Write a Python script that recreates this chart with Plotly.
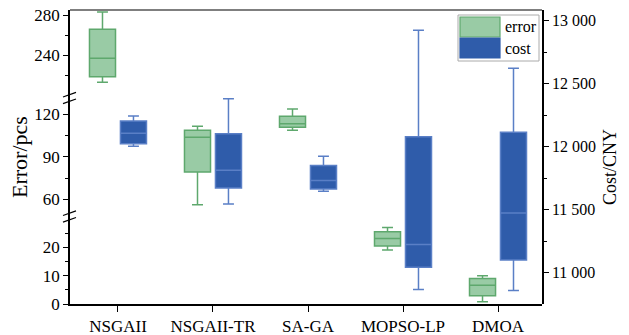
import numpy as np
import plotly.graph_objects as go

CATEGORIES = ["NSGAII", "NSGAII-TR", "SA-GA", "MOPSO-LP", "DMOA"]

# error (pcs) box statistics
err_low = [212.7, 56.2, 108.7, 19.1, 0.8]
err_q1 = [218.3, 79.3, 110.8, 20.5, 2.9]
err_med = [236.7, 103.8, 113.4, 23.1, 6.6]
err_q3 = [265.7, 108.7, 118.6, 25.5, 9.0]
err_high = [283.0, 111.5, 123.7, 27.0, 10.0]

# cost (CNY) box statistics
cost_low = [12003, 11545, 11646, 10868, 10860]
cost_q1 = [12024, 11672, 11664, 11043, 11101]
cost_med = [12106, 11813, 11733, 11225, 11474]
cost_q3 = [12204, 12103, 11852, 12079, 12114]
cost_high = [12244, 12381, 11924, 12924, 12622]

FONT = "Liberation Serif"
GREEN_FILL = "#99cba5"
GREEN_LINE = "#5ea86d"
BLUE_FILL = "#2f5caa"
BLUE_LINE = "#5a7fc6"

OFF = 0.163
BW = 0.274
idx = np.arange(len(CATEGORIES))

W, H = 629, 335
L, R, T, B = 70, 87, 10, 31
PW, PH = W - L - R, H - T - B


def px2paper(px, py):
    return (px - L) / PW, (H - B - py) / PH


fig = go.Figure()

err_axes = ["y", "y2", "y3"]
for ya in err_axes:
    fig.add_trace(go.Box(
        x=idx - OFF, q1=err_q1, median=err_med, q3=err_q3,
        lowerfence=err_low, upperfence=err_high,
        width=BW, whiskerwidth=0.42,
        fillcolor=GREEN_FILL, line=dict(color=GREEN_LINE, width=1.5),
        xaxis="x", yaxis=ya, name="error", showlegend=False, hoverinfo="skip",
    ))

fig.add_trace(go.Box(
    x=idx + OFF, q1=cost_q1, median=cost_med, q3=cost_q3,
    lowerfence=cost_low, upperfence=cost_high,
    width=BW, whiskerwidth=0.42,
    fillcolor=BLUE_FILL, line=dict(color=BLUE_LINE, width=1.5),
    xaxis="x", yaxis="y4", name="cost", showlegend=False, hoverinfo="skip",
))

b_low = (H - B - 216.5) / PH
b_high = (H - B - 98) / PH

tickfont = dict(family=FONT, size=17, color="black")
common_y = dict(showline=True, linecolor="black", linewidth=1.5, ticks="outside",
                ticklen=5, tickwidth=1.2, tickcolor="black", showgrid=False,
                zeroline=False, tickfont=tickfont, anchor="x", side="left",
                automargin=False)

fig.update_layout(
    width=W, height=H, autosize=False,
    margin=dict(l=L, r=R, t=T, b=B, autoexpand=False),
    plot_bgcolor="rgba(0,0,0,0)", paper_bgcolor="white",
    separators=". ",
    xaxis=dict(domain=[0, 1], range=[-0.505, 4.463], tickmode="array",
               tickvals=list(idx), ticktext=CATEGORIES, showline=True,
               linecolor="black", linewidth=1.5, ticks="outside", ticklen=6,
               tickwidth=1.2, tickcolor="black", showgrid=False, zeroline=False,
               tickfont=tickfont, anchor="y", automargin=False),
    yaxis=dict(domain=[0, b_low], range=[0, 30.9], tickvals=[0, 10, 20],
               minor=dict(tickvals=[5, 15, 25], ticks="outside", ticklen=3,
                          tickcolor="black"), **common_y),
    yaxis2=dict(domain=[b_low, b_high], range=[47.9, 131.5], tickvals=[60, 90, 120],
                minor=dict(tickvals=[75, 105], ticks="outside", ticklen=3,
                           tickcolor="black"), **common_y),
    yaxis3=dict(domain=[b_high, 1], range=[197, 285], tickvals=[240, 280],
                minor=dict(tickvals=[220, 260], ticks="outside", ticklen=3,
                           tickcolor="black"), **common_y),
    yaxis4=dict(domain=[0, 1], range=[10752, 13085], side="right", anchor="x",
                tickvals=[11000, 11500, 12000, 12500, 13000], tickformat=",d",
                minor=dict(tickvals=[11250, 11750, 12250, 12750], ticks="outside",
                           ticklen=3, tickcolor="black"),
                showline=True, linecolor="black", linewidth=1.5, ticks="outside",
                ticklen=5, tickwidth=1.2, tickcolor="black", showgrid=False,
                zeroline=False, automargin=False,
                tickfont=dict(family=FONT, size=16, color="black")),
    showlegend=False,
)

shapes = []
# top frame line
shapes.append(dict(type="line", xref="paper", yref="paper", x0=0, x1=1, y0=1, y1=1,
                   line=dict(color="#555555", width=1.5)))
# axis break marks
for by_px in (98, 216.5):
    for d in (-3.3, 3.3):
        x0, y0 = px2paper(63, by_px + d + 2.3)
        x1, y1 = px2paper(76, by_px + d - 2.3)
        shapes.append(dict(type="line", xref="paper", yref="paper",
                           x0=x0, y0=y0, x1=x1, y1=y1,
                           line=dict(color="black", width=1.2)))
# legend
lx0, ly0 = px2paper(458, 61)
lx1, ly1 = px2paper(539, 15)
shapes.append(dict(type="rect", xref="paper", yref="paper", x0=lx0, y0=ly0, x1=lx1, y1=ly1,
                   line=dict(color="#aaaaaa", width=1), fillcolor="white", layer="above"))
for (top, bot, fc, lc) in ((17, 37, GREEN_FILL, GREEN_LINE), (38, 58, BLUE_FILL, BLUE_FILL)):
    a, b = px2paper(460, bot)
    c, d = px2paper(500, top)
    shapes.append(dict(type="rect", xref="paper", yref="paper", x0=a, y0=b, x1=c, y1=d,
                       line=dict(color=lc, width=1.2), fillcolor=fc, layer="above"))
fig.update_layout(shapes=shapes)

annotations = []
for label, cy in (("error", 27), ("cost", 48)):
    ax, ay = px2paper(503, cy)
    annotations.append(dict(text=label, x=ax, y=ay, xref="paper", yref="paper",
                            xanchor="left", yanchor="middle", showarrow=False,
                            font=dict(family=FONT, size=16, color="black")))
ax, ay = px2paper(19, 157)
annotations.append(dict(text="Error/pcs", x=ax, y=ay, xref="paper", yref="paper",
                        xanchor="center", yanchor="middle", textangle=-90, showarrow=False,
                        font=dict(family=FONT, size=22, color="black")))
ax, ay = px2paper(610, 167)
annotations.append(dict(text="Cost/CNY", x=ax, y=ay, xref="paper", yref="paper",
                        xanchor="center", yanchor="middle", textangle=-90, showarrow=False,
                        font=dict(family=FONT, size=18, color="black")))
fig.update_layout(annotations=annotations)

fig.write_html("out.html", config={"displayModeBar": False},
               post_script="document.body.style.margin='0px';")
